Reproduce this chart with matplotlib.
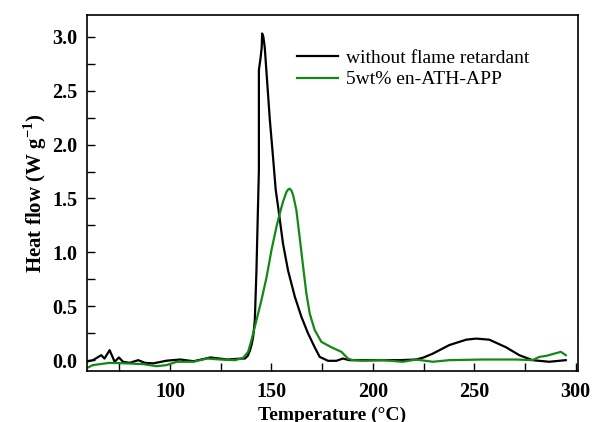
import numpy as np
import matplotlib
matplotlib.use("Agg")
import matplotlib.pyplot as plt
from matplotlib.ticker import MultipleLocator, FormatStrFormatter

plt.rcParams['font.family'] = ['Liberation Serif', 'DejaVu Serif']
plt.rcParams['font.weight'] = 'bold'
plt.rcParams['mathtext.fontset'] = 'custom'
plt.rcParams['mathtext.rm'] = 'Liberation Serif:bold'
plt.rcParams['mathtext.bf'] = 'Liberation Serif:bold'

# without flame retardant (black)
temp_neat = [58.6, 62, 66.1, 67.7, 70.2, 72.7, 74.8, 76.8, 80.1, 84.3, 87.6, 91.7, 98.3, 105,
             111.6, 119.9, 128.2, 135.6, 136.9, 138.3, 139.4, 140.3, 141.0, 141.8, 142.6,
             143.4, 143.8, 143.8, 144.6, 145.2, 145.4, 146.0, 146.7, 148.0, 149.2, 150.7,
             152.1, 153.3, 155.7, 158.2, 161.5, 164.8, 168.0, 171.3, 173.8, 177.9, 182.0,
             185.2, 188.5, 199.9, 213.1, 221.3, 225, 229.5, 237.7, 246, 250.9, 257.4, 265.6,
             272.2, 278.7, 286.9, 295.1]
heat_neat = [-0.015, 0.0, 0.046, 0.015, 0.093, -0.015, 0.025, -0.015, -0.025, 0.0, -0.025,
             -0.03, -0.005, 0.006, -0.01, 0.025, 0.006, 0.015, 0.015, 0.04, 0.09, 0.15, 0.22,
             0.37, 0.83, 1.45, 1.76, 2.69, 2.8, 2.9, 3.03, 3.0, 2.9, 2.55, 2.23, 1.9, 1.58,
             1.42, 1.08, 0.83, 0.59, 0.40, 0.25, 0.12, 0.03, -0.006, -0.006, 0.015, 0.0, 0.0,
             0.0, 0.006, 0.025, 0.06, 0.14, 0.19, 0.2, 0.19, 0.12, 0.046, 0.0, -0.015, 0.0]

# 5wt% en-ATH-APP (green)
temp_fr = [58.6, 61.9, 70.2, 78.5, 86.8, 93.4, 98.3, 103.3, 111.6, 118.2, 124.8, 132.0,
           136.0, 138.5, 140.2, 142.6, 145.1, 147.6, 150.0, 152.5, 154.1, 155.7, 157.4,
           158.3, 159.0, 159.8, 160.7, 162.3, 163.9, 165.6, 167.2, 168.9, 171.3, 174.6,
           179.5, 184.5, 187.7, 190.0, 195, 204.9, 214.8, 221.3, 229.5, 237.7, 254.1,
           270.5, 278.7, 282, 285.5, 288.6, 292.7, 295.1]
heat_fr = [-0.077, -0.046, -0.025, -0.03, -0.037, -0.056, -0.046, -0.015, -0.015, 0.015,
           0.006, 0.0, 0.02, 0.077, 0.19, 0.37, 0.56, 0.77, 1.02, 1.24, 1.36, 1.47, 1.56,
           1.585, 1.59, 1.575, 1.53, 1.39, 1.14, 0.87, 0.62, 0.43, 0.28, 0.17, 0.12, 0.077,
           0.015, 0.0, -0.005, 0.0, -0.015, 0.006, -0.015, 0.0, 0.006, 0.006, 0.0, 0.03,
           0.04, 0.056, 0.077, 0.046]

fig = plt.figure(figsize=(5.95, 4.22), dpi=100)
ax = fig.add_axes([0.146, 0.121, 0.825, 0.843])

ax.plot(temp_neat, heat_neat, color='black', lw=1.6, label='without flame retardant')
ax.plot(temp_fr, heat_fr, color='#148814', lw=1.6, label='5wt% en-ATH-APP')

ax.set_xlim(59, 301)
ax.set_ylim(-0.1, 3.2)
ax.xaxis.set_major_locator(MultipleLocator(50))
ax.xaxis.set_minor_locator(MultipleLocator(25))
ax.yaxis.set_major_locator(MultipleLocator(0.5))
ax.yaxis.set_minor_locator(MultipleLocator(0.25))
ax.yaxis.set_major_formatter(FormatStrFormatter('%.1f'))
ax.tick_params(which='both', direction='in', length=6, width=1.0, top=False, right=False,
               labelsize=14.5)
ax.tick_params(axis='x', which='major', pad=8)
ax.tick_params(axis='y', which='major', pad=7)
for s in ax.spines.values():
    s.set_linewidth(1.2)

ax.set_xlabel('Temperature (\u00b0C)', fontsize=14, fontweight='bold', labelpad=3)
ax.set_ylabel(r'Heat flow (W g$^{-1}$)', fontsize=15, fontweight='bold', labelpad=2)

ax.legend(loc='upper left', bbox_to_anchor=(0.428, 0.904), frameon=False,
          prop={'size': 14, 'weight': 'normal'}, borderpad=0, borderaxespad=0,
          handlelength=2.1, handletextpad=0.4, labelspacing=0.2)

fig.savefig('out.png', dpi=100)
